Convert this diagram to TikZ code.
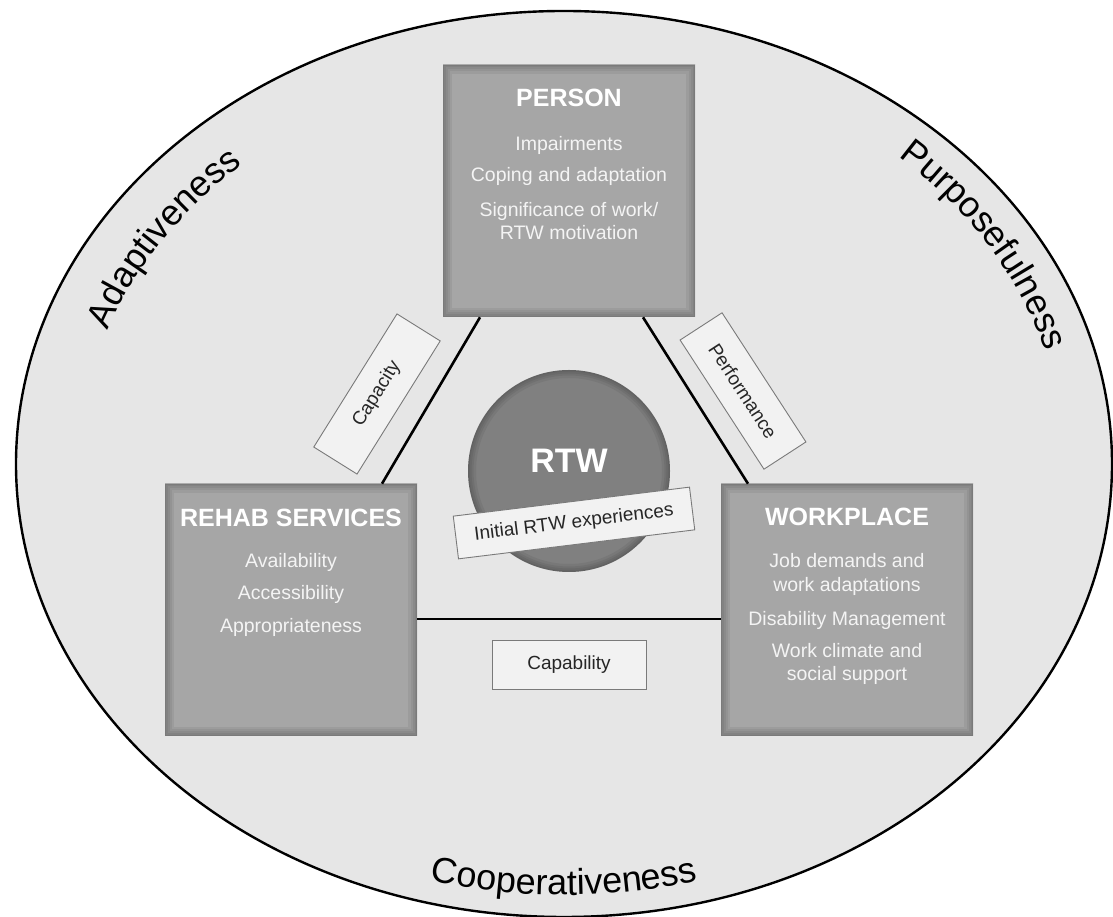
\documentclass[tikz,border=0pt]{standalone}
\usepackage{fontspec}
\setmainfont{Liberation Sans}
\usetikzlibrary{positioning,calc,decorations.text}

\definecolor{rimfill}{HTML}{E6E6E6}
\definecolor{boxfill}{HTML}{A6A6A6}
\definecolor{hubfill}{HTML}{808080}
\definecolor{tagfill}{HTML}{F2F2F2}
\definecolor{tagline}{HTML}{7A7A7A}
\definecolor{boxtext}{HTML}{F4F4F4}

\newcommand\rimfont{\fontsize{36}{43}\selectfont}

\begin{document}
\begin{tikzpicture}[x=1pt, y=1pt, semithick]
\tikzstyle{areabox}=[rectangle, fill=boxfill, minimum size=252pt, inner sep=0pt,
  path picture={\foreach \w in {18,13,9,5,2}
    \draw[black, opacity=0.055, line width=\w pt] (path picture bounding box.south west) rectangle (path picture bounding box.north east);}]
\tikzstyle{areahead}=[anchor=base, inner sep=0pt, text=white, font=\fontsize{25}{30}\selectfont\bfseries]
\tikzstyle{arealine}=[anchor=base, inner sep=0pt, text=boxtext, font=\fontsize{19.5}{23}\selectfont]
\tikzstyle{hub}=[circle, fill=hubfill, minimum size=202pt, inner sep=0pt,
  path picture={\foreach \w in {16,11,7,3}
    \draw[black, opacity=0.06, line width=\w pt] (path picture bounding box.center) circle (101pt);}]
\tikzstyle{linktag}=[rectangle, draw=tagline, fill=tagfill, line width=0.9pt, inner sep=0pt, text=black!85, font=\fontsize{19}{23}\selectfont]
\tikzstyle{rimtext}=[decorate, decoration={text along path, text align=center}]

\useasboundingbox (0,0) rectangle (1113,917);

% outer field
\draw[fill=rimfill, line width=2.4pt] (564,453) ellipse [x radius=548pt, y radius=453pt];

% the three areas
\node[areabox] (person)    at (569,726) {};
\node[areabox] (rehab)     at (291,307) {};
\node[areabox] (workplace) at (847,307) {};

% links
\draw[line width=2.6pt] ([xshift=-89pt]person.south) -- ([xshift=91pt]rehab.north);
\draw[line width=2.6pt] ([xshift=74pt]person.south) -- ([xshift=-99pt]workplace.north);
\draw[line width=2.6pt] ([yshift=-9pt]rehab.east) -- ([yshift=-9pt]workplace.west);

% box texts
\node[areahead] (personhead)    at ([yshift=-42pt]person.north)    {PERSON};
\node[areahead] (rehabhead)     at ([yshift=-43pt]rehab.north)     {REHAB SERVICES};
\node[areahead] (workplacehead) at ([yshift=-42pt]workplace.north) {WORKPLACE};

\foreach \txt/\dy [count=\i] in {Impairments/86, Coping and adaptation/117,
    Significance of work\slash/152, RTW motivation/175}
  \node[arealine] (person-\i) at ([yshift=-\dy pt]person.north) {\txt};
\foreach \txt/\dy [count=\i] in {Availability/84, Accessibility/116, Appropriateness/149}
  \node[arealine] (rehab-\i) at ([yshift=-\dy pt]rehab.north) {\txt};
\foreach \txt/\dy [count=\i] in {Job demands and/84, work adaptations/108,
    Disability Management/142, Work climate and/174, social support/197}
  \node[arealine] (workplace-\i) at ([yshift=-\dy pt]workplace.north) {\txt};

% centre
\node[hub] (rtw) at (569,446) {};
\node[text=white, font=\fontsize{34}{40}\selectfont\bfseries] (rtwlabel) at (569,456) {RTW};

% link labels
\node[linktag, minimum width=157pt, minimum height=51pt, rotate=58]  (capacity)    at (377,523) {Capacity};
\node[linktag, minimum width=154pt, minimum height=50pt, rotate=-57] (performance) at (743,526) {Performance};
\node[linktag, minimum width=154pt, minimum height=49pt]             (capability)  at (569,252) {Capability};
\node[linktag, minimum width=238pt, minimum height=43pt, rotate=7]   (initial)     at (574,394) {Initial RTW experiences};

% rim words
\path[rimtext, decoration={text={|\rimfont|Adaptiveness}}]
  (564,453) ++(177:484pt and 400pt) arc[start angle=177, end angle=117, x radius=484pt, y radius=400pt];
\path[rimtext, decoration={text={|\rimfont|Purposefulness}}]
  (564,453) ++(61:500pt and 414pt) arc[start angle=61, end angle=1, x radius=500pt, y radius=414pt];
\path[rimtext, decoration={text={|\rimfont|Cooperativeness}}]
  (564,453) ++(240:521pt and 431pt) arc[start angle=240, end angle=300, x radius=521pt, y radius=431pt];

\end{tikzpicture}
\end{document}
